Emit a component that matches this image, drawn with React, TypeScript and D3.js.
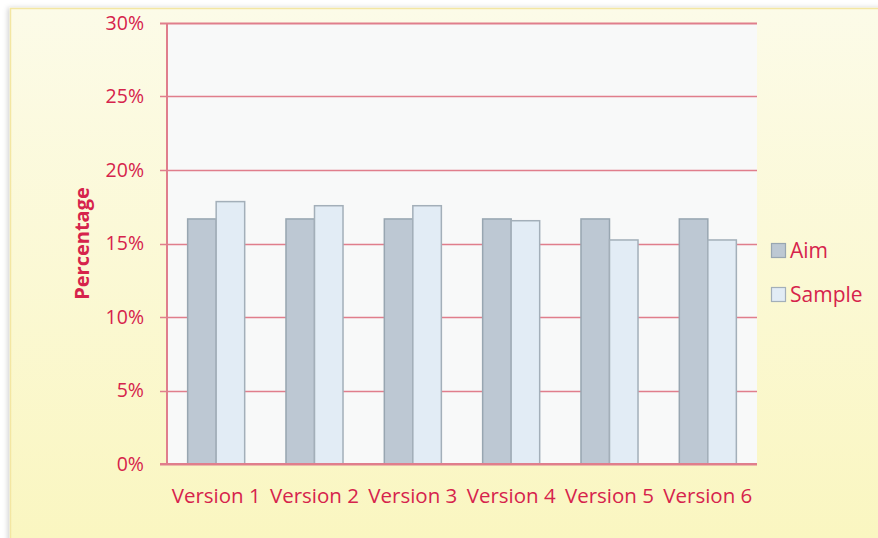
import { useEffect, useRef } from "react";
import * as d3 from "d3";

const categories = ["Version 1", "Version 2", "Version 3", "Version 4", "Version 5", "Version 6"];
const seriesNames = ["Aim", "Sample"];
const aimValues = [16.67, 16.67, 16.67, 16.67, 16.67, 16.67];
const sampleValues = [17.85, 17.57, 17.57, 16.55, 15.24, 15.24];
const yTicks = [0, 5, 10, 15, 20, 25, 30];

const TEXT = "#d6234c";
const GRID = "#e07e8c";
const FILLS = ["#bdc8d3", "#e2ecf5"];
const STROKES = ["#98a6b1", "#a3afb9"];

export default function App() {
  const svgRef = useRef<SVGSVGElement>(null);

  useEffect(() => {
    if (!svgRef.current) return;
    const svg = d3.select(svgRef.current);
    svg.selectAll("*").remove();

    const W = 878;
    const H = 538;
    const plot = { left: 167, top: 23, right: 757, bottom: 464 };
    const font = "Open Sans, sans-serif";

    const defs = svg.append("defs");
    const bg = defs
      .append("linearGradient")
      .attr("id", "bgGrad")
      .attr("x1", "0%")
      .attr("y1", "0%")
      .attr("x2", "0%")
      .attr("y2", "100%");
    bg.append("stop").attr("offset", "0%").attr("stop-color", "#fcfbe8");
    bg.append("stop").attr("offset", "100%").attr("stop-color", "#faf6c0");

    const shadow = defs.append("filter").attr("id", "shadow").attr("x", "-5%").attr("y", "-5%").attr("width", "110%").attr("height", "110%");
    shadow
      .append("feDropShadow")
      .attr("dx", -2)
      .attr("dy", 0)
      .attr("stdDeviation", 2.5)
      .attr("flood-color", "#000")
      .attr("flood-opacity", 0.18);

    // outer chart area
    svg
      .append("rect")
      .attr("x", 10.5)
      .attr("y", 8.5)
      .attr("width", W)
      .attr("height", H)
      .attr("fill", "url(#bgGrad)")
      .attr("stroke", "#f3e6a2")
      .attr("stroke-width", 1.5)
      .attr("filter", "url(#shadow)");

    // plot background
    svg
      .append("rect")
      .attr("x", plot.left)
      .attr("y", plot.top)
      .attr("width", plot.right - plot.left)
      .attr("height", plot.bottom - plot.top)
      .attr("fill", "#f8f9f9");

    const x0 = d3.scaleBand<string>().domain(categories).range([plot.left, plot.right]).paddingInner(0.42).paddingOuter(0.21);
    const x1 = d3.scaleBand<string>().domain(seriesNames).range([0, x0.bandwidth()]);
    const y = d3.scaleLinear().domain([0, 30]).range([plot.bottom, plot.top]);

    // gridlines + ticks
    const grid = svg.append("g");
    yTicks.forEach((t) => {
      grid
        .append("line")
        .attr("x1", plot.left - 7)
        .attr("x2", plot.right)
        .attr("y1", Math.round(y(t)) + 0.5)
        .attr("y2", Math.round(y(t)) + 0.5)
        .attr("stroke", GRID)
        .attr("stroke-width", t === 0 || t === 30 ? 2 : 1.3);
      svg
        .append("text")
        .attr("x", 144)
        .attr("y", y(t))
        .attr("dy", "0.35em")
        .attr("text-anchor", "end")
        .style("font-family", font)
        .style("font-size", "19.5px")
        .style("fill", TEXT)
        .text(`${t}%`);
    });
    svg
      .append("line")
      .attr("x1", plot.left)
      .attr("x2", plot.left)
      .attr("y1", plot.top)
      .attr("y2", plot.bottom)
      .attr("stroke", GRID)
      .attr("stroke-width", 2);

    // bars
    const series = [aimValues, sampleValues];
    series.forEach((vals, si) => {
      svg
        .append("g")
        .selectAll("rect")
        .data(vals)
        .join("rect")
        .attr("x", (_, i) => (x0(categories[i]) ?? 0) + (x1(seriesNames[si]) ?? 0))
        .attr("y", (d) => y(d))
        .attr("width", x1.bandwidth())
        .attr("height", (d) => y(0) - y(d))
        .attr("fill", FILLS[si])
        .attr("stroke", STROKES[si])
        .attr("stroke-width", 1.5);
    });

    // redraw baseline over bars
    svg
      .append("line")
      .attr("x1", plot.left - 7)
      .attr("x2", plot.right)
      .attr("y1", y(0))
      .attr("y2", y(0))
      .attr("stroke", GRID)
      .attr("stroke-width", 2);

    // category labels
    svg
      .append("g")
      .selectAll("text")
      .data(categories)
      .join("text")
      .attr("x", (d) => (x0(d) ?? 0) + x0.bandwidth() / 2)
      .attr("y", 503)
      .attr("text-anchor", "middle")
      .style("font-family", font)
      .style("font-size", "20.5px")
      .style("fill", TEXT)
      .text((d) => d);

    // y axis title
    svg
      .append("text")
      .attr("transform", `translate(89, ${(plot.top + plot.bottom) / 2}) rotate(-90)`)
      .attr("text-anchor", "middle")
      .style("font-family", font)
      .style("font-size", "20px")
      .style("font-weight", "bold")
      .style("fill", TEXT)
      .text("Percentage");

    // legend
    const legend = svg.append("g").attr("transform", "translate(771, 243)");
    seriesNames.forEach((name, i) => {
      legend
        .append("rect")
        .attr("x", 0.5)
        .attr("y", i * 44 + 0.5)
        .attr("width", 14)
        .attr("height", 14)
        .attr("fill", FILLS[i])
        .attr("stroke", STROKES[i])
        .attr("stroke-width", 1.2);
      legend
        .append("text")
        .attr("x", 19)
        .attr("y", i * 44 + 8)
        .attr("dy", "0.35em")
        .style("font-family", font)
        .style("font-size", "21px")
        .style("fill", TEXT)
        .text(name);
    });
  }, []);

  return (
    <div style={{ position: "absolute", left: 0, top: 0, width: 878, height: 538, background: "#fff" }}>
      <svg ref={svgRef} width={878} height={538} style={{ display: "block" }} />
    </div>
  );
}
